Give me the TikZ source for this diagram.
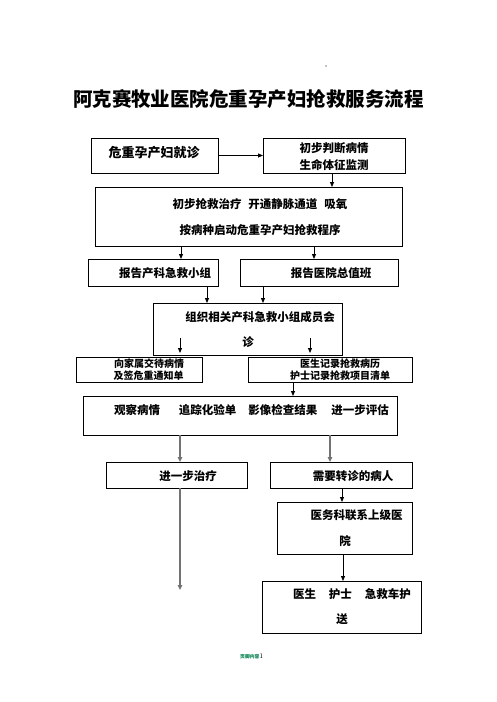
\documentclass[tikz,border=0pt]{standalone}
\usepackage{fontspec}
\newfontfamily\cjk{Noto Sans CJK SC}
\usetikzlibrary{arrows.meta}
\begin{document}
\begin{tikzpicture}[x=1pt,y=1pt,
  boxn/.style={draw=black,line width=0.9pt,rectangle,inner sep=0pt,outer sep=0pt},
  txt/.style={inner sep=0pt,font=\cjk\bfseries\fontsize{11.5}{13}\selectfont},
  stxt/.style={inner sep=0pt,font=\cjk\bfseries\fontsize{10}{12}\selectfont},
  arr/.style={-{Triangle[length=5pt,width=4pt]},line width=0.8pt,black},
  garr/.style={-{Triangle[length=5pt,width=4.5pt]},line width=1.3pt,draw=black!55,fill=black!55}]
\useasboundingbox (0,0) rectangle (496,-702);
\fill[white] (0,0) rectangle (496,-702);
\fill[black!30] (326,-66) circle (1.2);
\node[inner sep=0pt,font=\cjk\bfseries\fontsize{19.5}{22}\selectfont] (title) at (248.5,-99) {阿克赛牧业医院危重孕产妇抢救服务流程};
% boxes
\node[boxn,minimum width=127,minimum height=35] (b1) at (154.5,-155.5) {};
\node[boxn,minimum width=142,minimum height=35] (b2) at (334,-155.5) {};
\node[boxn,minimum width=307,minimum height=59] (b3) at (248.5,-216.5) {};
\node[boxn,minimum width=130,minimum height=27] (b4) at (153,-272.5) {};
\node[boxn,minimum width=158,minimum height=27] (b5) at (319,-272.5) {};
\node[boxn,minimum width=189,minimum height=52] (b6) at (247.5,-329) {};
\node[boxn,minimum width=126,minimum height=25] (b7) at (139,-369.5) {};
\node[boxn,minimum width=164,minimum height=25] (b8) at (330,-369.5) {};
\node[boxn,minimum width=314,minimum height=39] (b9) at (240,-415.5) {};
\node[boxn,minimum width=141,minimum height=26] (b10) at (176.5,-475) {};
\node[boxn,minimum width=142,minimum height=26] (b11) at (341,-475) {};
\node[boxn,minimum width=135,minimum height=52] (b12) at (344.5,-528) {};
\node[boxn,minimum width=159,minimum height=52] (b13) at (341.5,-607) {};
% texts
\node[inner sep=0pt,font=\cjk\bfseries\fontsize{13}{15}\selectfont] (t1) at (154,-153) {危重孕产妇就诊};
\node[txt] (t2a) at (334,-148) {初步判断病情};
\node[txt] (t2b) at (334,-165) {生命体征监测};
\node[txt] (t3a) at (260,-204) {初步抢救治疗\hspace{7pt}开通静脉通道\hspace{7pt}吸氧};
\node[txt] (t3b) at (260,-230) {按病种启动危重孕产妇抢救程序};
\node[txt] (t4) at (165,-273) {报告产科急救小组};
\node[txt] (t5) at (331,-273) {报告医院总值班};
\node[txt] (t6a) at (260,-317) {组织相关产科急救小组成员会};
\node[txt] (t6b) at (248,-342) {诊};
\node[stxt] (t7a) at (149,-364) {向家属交待病情};
\node[stxt] (t7b) at (148.5,-376) {及签危重通知单};
\node[stxt] (t8a) at (340,-364) {医生记录抢救病历};
\node[stxt] (t8b) at (340,-376) {护士记录抢救项目清单};
\node[txt] (t9) at (251.5,-410) {观察病情\hspace{19pt}追踪化验单\hspace{12pt}影像检查结果\hspace{14pt}进一步评估};
\node[txt] (t10) at (188,-476) {进一步治疗};
\node[txt] (t11) at (353,-476) {需要转诊的病人};
\node[txt] (t12a) at (356.5,-515) {医务科联系上级医};
\node[txt] (t12b) at (345,-541) {院};
\node[txt] (t13a) at (352,-594) {医生\hspace{13pt}护士\hspace{13pt}急救车护};
\node[txt] (t13b) at (342,-619) {送};
\node[inner sep=0pt,anchor=base west] (foot) at (240,-658) {\textcolor[rgb]{0,0.5,0.3}{\cjk\bfseries\fontsize{4.8}{6}\selectfont 页脚内容}\fontsize{7}{8}\selectfont 1};
% x-guides
\coordinate (x332) at (332,0);
\coordinate (x181) at (181,0);
\coordinate (x314) at (314,0);
\coordinate (x207) at (207,0);
\coordinate (x263) at (263,0);
\coordinate (x180) at (180,0);
\coordinate (x310) at (310,0);
\coordinate (x293) at (293,0);
\coordinate (x330) at (330,0);
\coordinate (x342) at (342,0);
\coordinate (x343) at (343,0);
\coordinate (y338) at (0,-338);
\coordinate (y353) at (0,-353);
\coordinate (y590) at (0,-590);
\coordinate (in1s) at (x180 |- y338);
\coordinate (in1e) at (x180 |- y353);
\coordinate (in2s) at (x310 |- y338);
\coordinate (in2e) at (x310 |- y353);
\coordinate (endL) at (x180 |- y590);
% arrows
\draw[arr] (b1.east) -- (b2.west |- b1.east);
\draw[arr] (b2.south -| x332) -- (b3.north -| x332);
\draw[arr] (b3.south -| x181) -- (b4.north -| x181);
\draw[arr] (b3.south -| x314) -- (b5.north -| x314);
\draw[arr] (b4.south -| x207) -- (b6.north -| x207);
\draw[arr] (b5.south -| x263) -- (b6.north -| x263);
\draw[arr] (in1s) -- (in1e);
\draw[arr] (in2s) -- (in2e);
\draw[arr] (b8.south -| x293) -- (b9.north -| x293);
\draw[garr] (b9.south -| x180) -- (b10.north -| x180);
\draw[garr] (b9.south -| x330) -- (b11.north -| x330);
\draw[garr] (b10.south -| x180) -- (endL);
\draw[arr] (b11.south -| x342) -- (b12.north -| x342);
\draw[arr] (b12.south -| x343) -- (b13.north -| x343);
\end{tikzpicture}
\end{document}
